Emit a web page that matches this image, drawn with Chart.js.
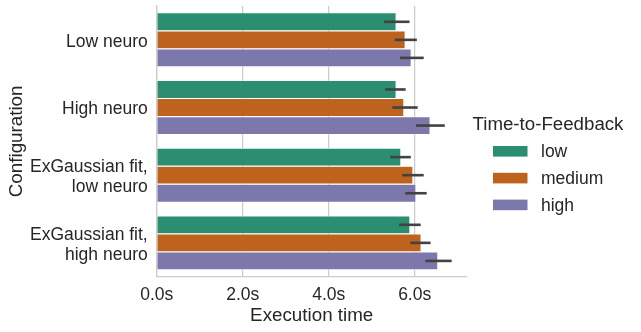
<!DOCTYPE html>
<html>
<head>
<meta charset="utf-8">
<title>Execution time by configuration</title>
<script src="https://cdn.jsdelivr.net/npm/chart.js@4.4.0/dist/chart.umd.min.js"></script>
<style>
  html, body { margin: 0; padding: 0; background: #ffffff; }
  #wrap { width: 641px; height: 332px; }
</style>
</head>
<body>
<div id="wrap"><canvas id="timeChart" width="641" height="332"></canvas></div>
<script>
// --- Data ---
const configurations = [
  "Low neuro",
  "High neuro",
  ["ExGaussian fit,", "low neuro"],
  ["ExGaussian fit,", "high neuro"]
];
const feedbackLevels = ["low", "medium", "high"];

const lowTimes = [5.57, 5.57, 5.68, 5.89];
const mediumTimes = [5.78, 5.75, 5.96, 6.15];
const highTimes = [5.92, 6.36, 6.03, 6.54];

// confidence interval ends (error bars)
const lowCiLo = [5.29, 5.31, 5.43, 5.64];
const lowCiHi = [5.88, 5.79, 5.91, 6.14];
const mediumCiLo = [5.54, 5.48, 5.71, 5.90];
const mediumCiHi = [6.05, 6.07, 6.21, 6.37];
const highCiLo = [5.66, 6.03, 5.78, 6.25];
const highCiHi = [6.21, 6.70, 6.28, 6.86];

const xTicks = [0, 2, 4, 6];
const xMax = 7.21;

const colors = ["#2b8e70", "#be631d", "#7c78ab"];
const textColor = "#262626";
const gridColor = "#cccccc";
const fontFamily = "'Liberation Sans', Arial, sans-serif";

// --- Error bars drawn through the x scale ---
const errorBars = {
  id: "errorBars",
  afterDatasetsDraw(chart) {
    const ctx = chart.ctx;
    const xs = chart.scales.x;
    ctx.save();
    ctx.strokeStyle = "#424242";
    ctx.lineWidth = 2.6;
    chart.data.datasets.forEach((ds, i) => {
      const meta = chart.getDatasetMeta(i);
      meta.data.forEach((bar, j) => {
        ctx.beginPath();
        ctx.moveTo(xs.getPixelForValue(ds.ciLo[j]), bar.y);
        ctx.lineTo(xs.getPixelForValue(ds.ciHi[j]), bar.y);
        ctx.stroke();
      });
    });
    ctx.restore();
  }
};

// --- Legend on the right, seaborn style ---
const sideLegend = {
  id: "sideLegend",
  afterDraw(chart) {
    const ctx = chart.ctx;
    ctx.save();
    ctx.fillStyle = textColor;
    ctx.textBaseline = "middle";
    ctx.textAlign = "center";
    ctx.font = "18.7px " + fontFamily;
    ctx.fillText("Time-to-Feedback", 548, 125);
    ctx.textAlign = "left";
    ctx.font = "17.5px " + fontFamily;
    chart.data.datasets.forEach((ds, i) => {
      const y = 151.3 + i * 26.8;
      ctx.fillStyle = ds.backgroundColor;
      ctx.fillRect(493, y - 5.3, 34.5, 10.6);
      ctx.fillStyle = textColor;
      ctx.fillText(ds.label, 541, y + 1);
    });
    ctx.restore();
  }
};

const ctx = document.getElementById("timeChart").getContext("2d");

const timeChart = new Chart(ctx, {
  type: "bar",
  data: {
    labels: configurations,
    datasets: [
      { label: feedbackLevels[0], data: lowTimes, ciLo: lowCiLo, ciHi: lowCiHi, backgroundColor: colors[0] },
      { label: feedbackLevels[1], data: mediumTimes, ciLo: mediumCiLo, ciHi: mediumCiHi, backgroundColor: colors[1] },
      { label: feedbackLevels[2], data: highTimes, ciLo: highCiLo, ciHi: highCiHi, backgroundColor: colors[2] }
    ]
  },
  options: {
    indexAxis: "y",
    responsive: false,
    animation: false,
    barPercentage: 1,
    categoryPercentage: 0.8,
    borderColor: "#ffffff",
    borderWidth: 0.6,
    layout: { padding: { top: 6, right: 174.3, left: 0, bottom: 0 } },
    plugins: {
      legend: { display: false },
      tooltip: { enabled: false }
    },
    scales: {
      x: {
        min: 0,
        max: xMax,
        afterBuildTicks(scale) {
          scale.ticks = xTicks.map(v => ({ value: v }));
        },
        grid: { color: gridColor, lineWidth: 1.25, drawTicks: false },
        border: { display: true, color: gridColor, width: 1.25 },
        ticks: {
          padding: 8,
          color: textColor,
          font: { family: fontFamily, size: 17.5 },
          maxRotation: 0,
          callback: v => v.toFixed(1) + "s"
        },
        title: {
          display: true,
          text: "Execution time",
          color: textColor,
          font: { family: fontFamily, size: 18.8 },
          padding: { top: 0, bottom: 5 }
        },
        afterFit(scale) {
          scale.height = 55.3;
          scale.paddingLeft = 0;
          scale.paddingRight = 0;
        }
      },
      y: {
        grid: { display: false, drawTicks: false },
        border: { display: true, color: gridColor, width: 1.25 },
        ticks: {
          padding: 9,
          labelOffset: 2,
          color: textColor,
          font: { family: fontFamily, size: 17.5, lineHeight: 1.15 }
        },
        title: {
          display: true,
          text: "Configuration",
          color: textColor,
          font: { family: fontFamily, size: 18.8 },
          padding: { top: 6, bottom: 0 }
        },
        afterFit(scale) {
          scale.width = 156.7;
          scale.paddingTop = 0;
          scale.paddingBottom = 0;
        }
      }
    }
  },
  plugins: [errorBars, sideLegend]
});
</script>
</body>
</html>
